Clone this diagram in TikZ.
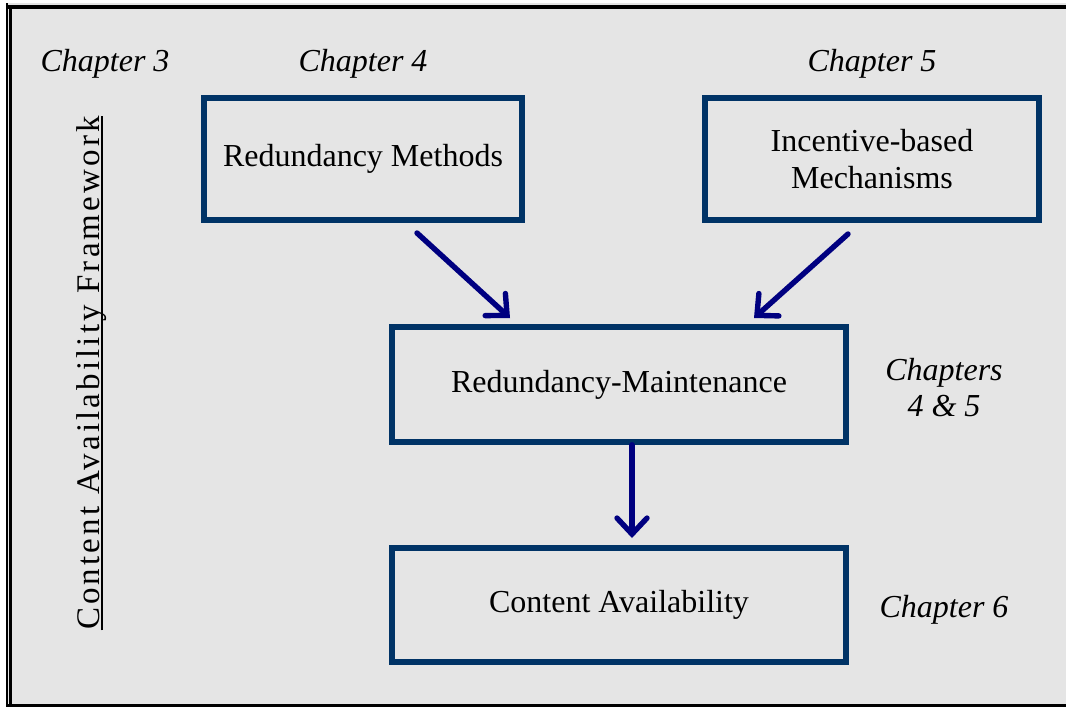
\documentclass[tikz,border=0pt]{standalone}
\usepackage{fontspec}
\setmainfont{Liberation Serif}
\usetikzlibrary{arrows.meta,positioning}
\definecolor{panelgrey}{HTML}{E5E5E5}
\definecolor{boxblue}{HTML}{003366}
\definecolor{arrowblue}{HTML}{000080}
\tikzset{
  box/.style={draw=boxblue, line width=2.8pt, align=center, inner sep=0pt, font=\fontsize{16}{18.5}\selectfont},
  chapter/.style={align=center, inner sep=0pt, font=\fontsize{16}{18}\selectfont\itshape},
  arrow/.style={-{Straight Barb[length=8pt,width=15pt,line cap=round]}, draw=arrowblue, line width=2.7pt, line cap=round}
}

\begin{document}
\begin{tikzpicture}[x=0.5pt,y=-0.5pt]
\useasboundingbox (0,0) rectangle (1066,707);
\fill[panelgrey] (7,3) rectangle (1066,707);
\draw[line width=2pt] (7,6.5) -- (1066,6.5);
\draw[line width=1.4pt] (7,705.5) -- (1066,705.5);
\draw[line width=0.7pt] (7,3) -- (7,707);
\draw[line width=1.2pt] (10.5,6.5) -- (10.5,705.5);

\node[chapter] (ch3) at (105,64) {Chapter 3};
\node[chapter] (ch4) at (363,64) {Chapter 4};
\node[chapter] (ch5) at (872,64) {Chapter 5};
\node[chapter] (ch45) at (944,388) {Chapters\\4 \& 5};
\node[chapter] (ch6) at (944,610) {Chapter 6};

\node[rotate=90, anchor=base, inner sep=0pt, font=\fontsize{16.5}{18}\selectfont\addfontfeature{LetterSpace=9.6}] (framework) at (99,373) {Content Availability Framework};
\draw[line width=1pt] ([xshift=1.6pt]framework.base west) -- ([xshift=1.6pt]framework.base east);

\node[box, minimum width=159pt, minimum height=61pt] (redund) at (363,159) {Redundancy Methods};
\node[box, minimum width=167pt, minimum height=61pt] (incent) at (872,159) {Incentive-based\\Mechanisms};
\node[box, minimum width=227pt, minimum height=57.5pt] (maint) at (619,384.5) {Redundancy-Maintenance};
\node[box, minimum width=227pt, minimum height=57pt] (avail) at (619,605) {Content Availability};

\coordinate (from redund) at (417,233);
\coordinate (to maint left) at (510,318);
\coordinate (from incent) at (848,234);
\coordinate (to maint right) at (754,318);
\coordinate (to avail) at (632,538);
\draw[arrow] (from redund) -- (to maint left);
\draw[arrow] (from incent) -- (to maint right);
\draw[arrow] (maint.south -| to avail) -- (to avail);
\end{tikzpicture}
\end{document}
